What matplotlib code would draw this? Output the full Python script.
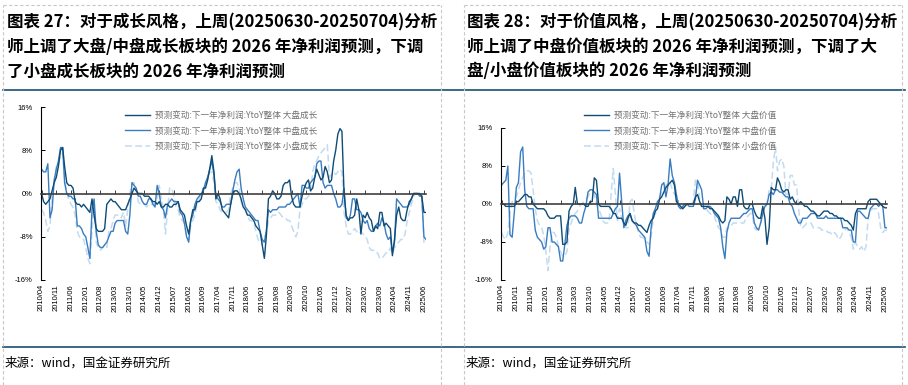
import numpy as np
import pandas as pd
import matplotlib
matplotlib.use('Agg')
import matplotlib.pyplot as plt
from matplotlib.lines import Line2D

plt.rcParams['font.family'] = ['Noto Sans CJK SC', 'DejaVu Sans']

# monthly points, 2010/04 .. 2025/07
months = pd.date_range('2010-04-01', '2025-07-01', freq='MS')

tick_labels = ['2010/04', '2010/11', '2011/06', '2012/01', '2012/08', '2013/03',
               '2013/10', '2014/05', '2014/12', '2015/07', '2016/02', '2016/09',
               '2017/04', '2017/11', '2018/06', '2019/01', '2019/08', '2020/03',
               '2020/10', '2021/05', '2021/12', '2022/07', '2023/02', '2023/09',
               '2024/04', '2024/11', '2025/06']

# growth style (left chart)
growth_large = [
    0, -1.5, -2, -1.5, -1, 0.5, 2, 3, 5, 8, 8.5, 5,
    2, 1.5, 1.5, 1, -1.5, -2, -2, -2.5, -2, -2.5, -3, -3.5,
    -1, -4, -6.5, -7, -7, -7, -6.5, -2, -1.5, -1, -1.5, -1.5,
    -2, -2.5, -3, -3, -3, -2, -1, 0, 1, 0.5, 0, 0,
    0, -0.5, -0.5, -0.5, -1, -1.5, -1.5, -2, -1.5, -2.5, -2.5, -2,
    -2, -2.5, -2.5, -2, -2, -1.5, -3, -3.5, -4, -6, -7.5, -5,
    -3, -3, -1.5, -1.5, -1, 1, 1, 2.5, 4.5, 7, 4, -1,
    0, -1, -3, -3.5, -4, -4.5, -2, 0, 0.5, 0.5, 0, -1,
    -2.5, -3, -4, -4, -4.5, -5, -6, -6.5, -7, -9.5, -12, -8,
    -1, -0.5, 0.5, 0, -1, -1, -0.5, 1.5, 2, 2, 2.5, -0.5,
    -2, -2.5, -2.5, -2.5, -0.5, 1, 2, 2.5, 0.5, 1, 3, 4.5,
    3.5, 2.5, 3, 5, 4, 2, 2.5, 6, 8, 11, 12, 11.5,
    0, -4, -5, -4.5, -4.5, -4, -1, -3, -7.5, -4, -4.5, -3.5,
    -4.5, -5, -7, -6, -6.5, -3.5, -3.5, -6, -5.5, -6, -6.5, -11.5,
    -8.5, -4, -2.5, -4.5, -5, -5, -3, -1.5, -1, 0, 0, 0,
    0, -0.5, -3.5, -3.5]
growth_mid = [
    4.5, 4, 4, 5.5, -4.5, -3, 2.5, 4.5, 6, 8.5, 8.5, 2,
    0, -0.5, -0.5, -1, -1, -6, -6, -6.5, -7.5, -8, -10, -12,
    -3, -1, -7, -9.5, -10, -10, -9.5, -9, -8, -7, -7, -5.5,
    -5, -5, -5, -5, -7, -7.5, -4, 2, 1.5, 1, -0.5, -0.5,
    -1.5, -2, -2, -1, -1, -2, -2.5, 1.5, 0, -2.5, -3, -4.5,
    -2, -1.5, -1, -1.5, -1.5, -1.5, -3.5, -4, -5.5, -8, -9, -5,
    -4, -2, -1, -0.5, 0, 0.5, 2, 3, 4.5, 6, 3.5, -0.5,
    -1, -1.5, -2.5, -2.5, -2, -2, -2, 0.5, 2.5, 4, 4.5, 1,
    -1, -2.5, -3, -3.5, -4, -4.5, -5, -5, -7, -8.5, -9, -7,
    -3, -3.5, -3, -3, -3, -2.5, -2.5, -2.5, -2.5, -2, -2, -1.5,
    -1, -0.5, 0, -2.5, 1.5, 1.5, 1, 1, 2, 2.5, 3, 5.5,
    6, 6, 2, 1, 1.5, 1.5, 1.5, 0, -1, -2.5, -2.5, -2,
    1, -4.5, -5, -4, -1, -1, -3, -3, -3.5, -5, -5.5, -5,
    -6.5, -7, -7, -6, -5.5, -6, -4.5, -5.5, -7.5, -8.5, -8, -11,
    -9, -1, -1.5, -2, -2.5, -2.5, -2.5, -2, -1, 0, 0, 0,
    -0.5, -0.5, -8, -8.5]
growth_small = [
    -3, -3.5, -5, -7, -6, -1, 2, 5, 5.5, 7, 7.5, 3,
    0, -1, -2, -2.5, -4, -7, -8, -8.5, -8.5, -10, -12, -13,
    -7, -1, -9, -10, -10.5, -10, -9.5, -10, -7, -6.5, -5, -4,
    -4, -4, -4.5, -3.5, -6, -3, 0, 2, 2, 0.5, -1.5, -2,
    -2, -2, -2.5, -2, -2, -2, -2, -1, 1.5, -1, -3, -7.5,
    -3, 1, 1, -0.5, -2.5, -3, -4.5, -5, -5.5, -8, -8.5, -6,
    -5, -4, -2, -1, 0, 1, 1, 2.5, 4, 4, 2, -1.5,
    -2, -3, -3.5, -3.5, -3.5, -3, 0, 1, 2, 2, 1, -1.5,
    -2.5, -3, -4, -5, -5, -5.5, -7, -8.5, -9, -9.5, -8, -7.5,
    -5, -4.5, -4, -4, -4, -3.5, -4, -4.5, -4.5, -5, -5, -6,
    -7, -8, -7, -3, -2, -1, -1, -0.5, 0, 4, 5.5, 6,
    7, 7.5, 8, 8.5, 9, 3, 3.5, 4, 3.5, 4, 4.5, 4,
    -3.5, -6, -7.5, -7.5, -7, -6.5, -7, -7.5, -7, -7.5, -8, -8.5,
    -10, -10.5, -10.5, -11, -11, -12, -12, -11.5, -11, -11, -10, -11,
    -10, -9.5, -9, -8.5, -8.5, -7.5, -5, -3.5, -2, -0.5, 0, 0,
    0, -0.5, -9, -9.5]

# value style (right chart)
value_large = [
    0, 0, -0.5, -0.5, -0.5, -0.5, -0.5, 0.5, 0.5, 1, 1.5, 2,
    2, 1.5, 1.5, 0, -0.5, -1, -1, -1, -1, -1.5, -2.5, -3,
    -3, -3, -2.5, -2.5, -2.5, -8.5, -8.5, -8, -1.5, -0.5, 0, 3.5,
    0, 0, 0, 0, -0.5, -0.5, 0.5, 0.5, 5.5, 5, 0, -0.5,
    -0.5, -0.5, -0.5, -0.5, -1, -2, -2, -3, -3, -3, -4, -4.5,
    -3, -2, -3.5, -4, -4, -4.5, -4.5, -5, -5.5, -6, -4.5, -3.5,
    -3, -1.5, -1, 1, 1.5, 2.5, 3.5, 4, 4.5, 5, 4, 0.5,
    0, -0.5, -1, -0.5, 0, 0, 0, 0, 1.5, 2, 0.5, -0.5,
    -0.5, -0.5, -0.5, -1, -1, -1.5, -2, -2.5, -3.5, -4, -3.5, 1.5,
    1, 0, 1.5, 1.5, -0.5, 3, 3, -0.5, -1, -1, 0, 0,
    -1.5, -2.5, -3, -3, -0.5, -3, -8.5, -5, 3.5, 3, 3, 5.5,
    4.5, 3, 2.5, 3, 3, 1, 1.5, 0.5, 0, 0, 0.5, 0,
    -0.5, -0.5, -1, -1.5, -1.5, -2, -2.5, -2.5, -2, -1.5, -1.5, -1.5,
    -2, -2, -2.5, -2.5, -3, -3, -3, -3.5, -3.5, -4, -4.5, -5.5,
    -2, -1, -1, -1, -1, -1, 0.5, 1, 1, 1, 1, 0.5,
    0, -0.5, -0.8, -0.8]
value_mid = [
    4, 4.5, 5, 8, -6.5, -7, -2, 3.5, 4.5, 11, 12, 3,
    -0.5, -1, -1, -1, -5.5, -7, -7.5, -8, -9.5, -9, -5, -5,
    -8, -8, -8.5, -9, -12, -12, -8.5, -4.5, -3, -2.5, -2.5, -2.5,
    -3, -4, -4, -2, -0.5, 2.5, 3, 3, 2.5, 2, -3, -3,
    -3, -3, -3, -3, -3, -2, -1, -0.5, 6.5, 0.5, -5, -3.5,
    -2.5, -2, -3.5, -4, -4.5, -5.5, -6, -6.5, -7, -10, -11, -5,
    -2, -1, 0.5, 1, 4, 4.5, 1.5, 4, 9.5, 6, 4.5, 2,
    -0.5, -1, -0.5, 0, 0, -0.5, -0.5, -0.5, 1, 5, 4, 3,
    -1, -1, -0.5, -0.5, -1, -2, -2.5, -3, -5, -9, -11.5, -6,
    -4, -3, -3, -3, -3, -3, -2.5, -2, -2, -1.5, -1, -1,
    -4, -5, -5.5, -4, -2, -0.5, 0, 2, 2.5, 2, 3, 3,
    2.5, 2.5, 2, 1.5, 1.5, 0, -0.5, -2, -3, -4, -4, -3,
    -3, -3, -2.5, -2, -2, -2, -3, -3, -3, -3, -2.5, -3,
    -3, -3, -3, -3, -3, -3, -5, -5, -5, -5.5, -5.5, -8,
    -8, -1.5, -1.5, -2, -2.5, -3, -3, -1, -0.5, 0, 0, -0.5,
    0, -0.5, -5, -5]
value_small = [
    -6, -7, -7.5, -6, -2, 0.5, 1, 1.5, 3, 4.5, 5.5, 6.5,
    7, 7, 6.5, 3, -1, -3.5, -4.5, -5, -6.5, -10, -14, -9,
    -6, -6, -7, -9, -10, -11, -11, -10, -5, -4, -2.5, -2,
    -1.5, -0.5, 0, 0.5, 1, 1.5, 2.5, 2.5, 2, 0, -1, -2,
    -3.5, -4, -4, -4, 2, 7.5, 2, -3.5, -1, -3, -3.5, -5,
    -5, 0.5, 1, -2, -4.5, -6, -7, -7, -7.5, -8, -8.5, -7,
    -3, -2, -1, 1.5, 2.5, 3, 4, 4.5, 4.5, 3, 2, 2,
    0, -1, -1, -0.5, 0, 0, 0, 0.5, 5, 5, 1, -0.5,
    -1, -1, -1.5, -2, -2.5, -2.5, -4, -5, -5.5, -7, -7, -5,
    -5, -4.5, -4, -4, -4, -4, -4, -4, -3, -2.5, -2, -2,
    -5, -5.5, -5, -4, -1, -1, 0, 3, 3, 9, 12, 7,
    9, 9.5, 8, 2, 2, 6, 6, 4, 4, -1, -5, -5,
    -4.5, -4, -4, -4, -5, -5, -5, -5, -5.5, -5.5, -5.5, -6,
    -6, -6.5, -6, -6.5, -7.5, -7, -6, -5.5, -5, -6, -7, -9.5,
    -8, -9, -9.5, -9, -10, -9, -3, -1.5, -1, -1, -1, -2,
    -5, -6, -5.5, -5.5]

c_dark = '#0f4c75'
c_mid = '#3a7cc0'
c_light = '#c3dbf0'

fig = plt.figure(figsize=(9.08, 3.85), dpi=100)
W, H = 908.0, 385.0


def px(x0, y_top, x1, y_bot):
    return [x0 / W, 1 - y_bot / H, (x1 - x0) / W, (y_bot - y_top) / H]


def draw_panel(ax, large, mid, small, names, leg_x):
    l3, = ax.plot(months, small, color=c_light, lw=1.1, ls=(0, (4.5, 2.2)))
    l2, = ax.plot(months, mid, color=c_mid, lw=1.0)
    l1, = ax.plot(months, large, color=c_dark, lw=1.0)
    ax.set_ylim(-16, 16)
    ax.set_xlim(months[0] - pd.Timedelta(days=8), months[-1])
    ax.set_yticks([-16, -8, 0, 8, 16])
    ax.set_yticklabels(['-16%', '-8%', '0%', '8%', '16%'],
                       family='Liberation Sans', fontsize=5.5)
    ax.tick_params(axis='y', direction='in', length=3, width=0.7, pad=6)
    for s in ['top', 'right']:
        ax.spines[s].set_visible(False)
    ax.spines['left'].set_linewidth(0.8)
    ax.spines['bottom'].set_position(('data', 0))
    ax.spines['bottom'].set_color('#404040')
    ax.spines['bottom'].set_linewidth(1.2)
    ticks = pd.to_datetime(tick_labels, format='%Y/%m')
    ax.set_xticks(ticks)
    ax.tick_params(axis='x', direction='in', length=3, width=0.7,
                   colors='#404040', labelbottom=False)
    sec = ax.secondary_xaxis(0.0)
    sec.set_xticks(ticks)
    sec.set_xticklabels(tick_labels, rotation=90, family='Liberation Sans',
                        fontsize=5.5)
    sec.tick_params(length=0, pad=3)
    sec.spines['bottom'].set_visible(False)
    fig.legend([l1, l2, l3], names, loc='upper left',
               bbox_to_anchor=(leg_x / W, 1 - 111 / H),
               bbox_transform=fig.transFigure, frameon=False,
               fontsize=6.2, labelcolor='#707070', handlelength=2.9,
               handletextpad=0.6, labelspacing=0.75, borderpad=0,
               borderaxespad=0)


ax1 = fig.add_axes(px(41, 107, 426, 280))
draw_panel(ax1, growth_large, growth_mid, growth_small,
           ['预测变动:下一年净利润:YtoY整体 大盘成长',
            '预测变动:下一年净利润:YtoY整体 中盘成长',
            '预测变动:下一年净利润:YtoY整体 小盘成长'], 125)

ax2 = fig.add_axes(px(501, 128, 887, 280))
draw_panel(ax2, value_large, value_mid, value_small,
           ['预测变动:下一年净利润:YtoY整体 大盘价值',
            '预测变动:下一年净利润:YtoY整体 中盘价值',
            '预测变动:下一年净利润:YtoY整体 小盘价值'], 584)

# titles
title_kw = dict(ha='left', va='top', fontsize=11.9, fontweight='bold',
                linespacing=1.48)
fig.text(7 / W, 1 - 13 / H,
         '图表 27：对于成长风格，上周(20250630-20250704)分析\n'
         '师上调了大盘/中盘成长板块的 2026 年净利润预测，下调\n'
         '了小盘成长板块的 2026 年净利润预测', **title_kw)
fig.text(467 / W, 1 - 13 / H,
         '图表 28：对于价值风格，上周(20250630-20250704)分析\n'
         '师上调了中盘价值板块的 2026 年净利润预测，下调了大\n'
         '盘/小盘价值板块的 2026 年净利润预测', **title_kw)

# source notes
fig.text(5 / W, 1 - 363 / H, '来源：wind，国金证券研究所',
         ha='left', va='center', fontsize=9)
fig.text(466 / W, 1 - 363 / H, '来源：wind，国金证券研究所',
         ha='left', va='center', fontsize=9)

# separators and cell borders
for yy in [89.5, 347]:
    fig.add_artist(Line2D([3 / W, 905 / W], [1 - yy / H] * 2,
                          color='#1b4f72', lw=1.2, transform=fig.transFigure))
for x0, x1 in [(3, 441), (464, 902)]:
    kw = dict(color='#c8c8c8', lw=0.8, ls=(0, (3, 2)), transform=fig.transFigure)
    fig.add_artist(Line2D([x0 / W, x1 / W], [1 - 5 / H] * 2, **kw))
    fig.add_artist(Line2D([x0 / W] * 2, [0, 1 - 5 / H], **kw))
    fig.add_artist(Line2D([x1 / W] * 2, [0, 1 - 5 / H], **kw))

fig.savefig('out.png', dpi=100)
